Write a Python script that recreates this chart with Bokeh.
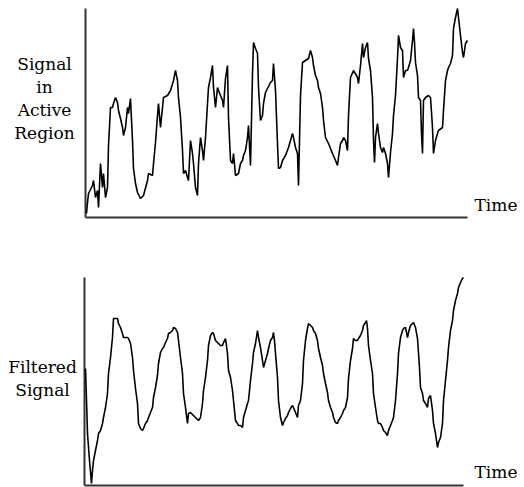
from bokeh.plotting import figure
from bokeh.layouts import column
from bokeh.models import Range1d, Label
from bokeh.embed import file_html
from bokeh.resources import INLINE

# Raw signal in the active region (time index, signal level)
raw_time = [1, 2, 3, 7, 8, 10, 12, 13, 15, 17, 18, 20, 22, 23, 25, 27, 28, 30, 32, 33,
            35, 37, 38, 40, 42, 43, 45, 47, 48, 50, 52, 55, 58, 62, 63, 67, 68, 70, 72, 73,
            75, 77, 78, 82, 85, 88, 90, 92, 93, 95, 97, 98, 100, 102, 103, 105, 107, 108, 110, 112,
            113, 115, 117, 118, 120, 122, 123, 125, 127, 128, 130, 132, 133, 135, 137, 138, 140, 142, 143, 145,
            147, 148, 150, 153, 155, 157, 158, 160, 162, 163, 165, 167, 168, 170, 172, 173, 175, 177, 178, 180,
            182, 185, 187, 188, 190, 192, 193, 195, 197, 200, 203, 207, 208, 210, 212, 213, 215, 217, 220, 223,
            225, 227, 228, 230, 232, 233, 235, 237, 238, 240, 243, 247, 250, 252, 253, 255, 257, 258, 260, 262,
            263, 265, 268, 272, 273, 275, 277, 278, 280, 282, 283, 285, 287, 288, 289, 290, 292, 293, 295, 297,
            298, 300, 302, 303, 305, 307, 308, 310, 312, 313, 315, 317, 318, 320, 322, 323, 325, 327, 328, 329,
            330, 332, 333, 335, 336, 337, 338, 340, 343, 345, 347, 348, 350, 352, 353, 357, 358, 360, 362, 363,
            365, 367, 368, 370, 372, 373, 375, 377, 378, 380, 382]
raw_signal = [4, 15, 24, 32, 37, 20, 27, 10, 54, 30, 44, 20, 30, 72, 110, 110, 114, 120, 115, 107,
              99, 90, 82, 90, 110, 104, 119, 77, 49, 34, 25, 19, 22, 37, 44, 42, 54, 75, 102, 114,
              90, 110, 120, 122, 127, 137, 147, 137, 120, 100, 67, 44, 47, 40, 37, 77, 64, 54, 30, 22,
              54, 80, 67, 57, 80, 114, 130, 140, 152, 130, 110, 130, 127, 122, 117, 110, 139, 152, 100, 57,
              54, 64, 42, 44, 54, 57, 62, 67, 80, 92, 52, 144, 175, 169, 164, 130, 97, 102, 114, 125,
              129, 135, 137, 154, 127, 74, 49, 50, 57, 62, 70, 84, 80, 70, 64, 32, 122, 155, 157, 159,
              167, 160, 152, 142, 137, 130, 124, 110, 97, 80, 74, 64, 57, 52, 60, 74, 77, 80, 77, 67,
              102, 140, 147, 140, 134, 152, 174, 160, 170, 175, 159, 147, 120, 77, 55, 80, 94, 84, 70, 65,
              70, 64, 54, 40, 65, 84, 102, 122, 159, 182, 170, 167, 140, 147, 147, 150, 157, 177, 189, 175,
              155, 142, 120, 117, 84, 64, 117, 120, 122, 120, 90, 64, 77, 84, 87, 90, 107, 137, 147, 150,
              154, 162, 189, 200, 209, 200, 182, 165, 160, 174, 177]

# Filtered signal (time index, signal level)
filt_time = [1, 2, 3, 5, 7, 8, 9, 11, 13, 14, 16, 18, 19, 21, 23, 24, 26, 28, 29, 33,
             34, 36, 38, 39, 43, 44, 46, 48, 49, 51, 53, 54, 56, 58, 59, 61, 63, 64, 66, 68,
             69, 71, 73, 74, 76, 78, 79, 81, 83, 84, 86, 88, 89, 91, 93, 94, 96, 98, 99, 101,
             103, 104, 106, 109, 111, 114, 116, 118, 119, 121, 123, 124, 126, 128, 129, 131, 133, 134, 136, 138,
             139, 141, 143, 144, 146, 148, 149, 151, 153, 154, 156, 158, 159, 161, 163, 164, 166, 168, 169, 171,
             173, 174, 176, 178, 179, 181, 183, 184, 186, 188, 189, 190, 191, 193, 194, 196, 198, 199, 201, 203,
             204, 206, 208, 209, 211, 213, 214, 216, 218, 219, 221, 223, 224, 226, 228, 229, 231, 233, 234, 236,
             238, 239, 241, 243, 244, 246, 248, 249, 251, 253, 254, 256, 258, 259, 261, 263, 264, 266, 268, 269,
             271, 273, 274, 276, 278, 279, 281, 282, 283, 284, 286, 288, 289, 291, 293, 294, 296, 298, 299, 301,
             303, 304, 306, 308, 309, 311, 313, 314, 316, 318, 319, 321, 323, 324, 326, 328, 329, 331, 333, 335,
             336, 338, 339, 341, 343, 344, 346, 348, 349, 351, 353, 354, 356, 358, 359, 361, 363, 364, 366, 368,
             369, 371, 373, 374, 376, 378, 379]
filt_signal = [117, 85, 52, 25, 2, 15, 25, 35, 45, 52, 55, 62, 68, 78, 92, 112, 128, 148, 167, 167,
               162, 158, 152, 148, 148, 147, 142, 128, 115, 97, 82, 62, 57, 55, 57, 62, 65, 68, 73, 78,
               88, 98, 110, 122, 133, 137, 138, 143, 147, 152, 153, 155, 158, 157, 153, 145, 128, 112, 92, 78,
               62, 72, 73, 70, 68, 65, 68, 82, 95, 108, 125, 140, 150, 153, 152, 145, 143, 142, 140, 140,
               143, 147, 132, 115, 108, 95, 85, 65, 62, 60, 60, 58, 68, 75, 82, 85, 105, 122, 133, 142,
               155, 148, 138, 125, 118, 125, 132, 137, 145, 148, 153, 145, 132, 108, 85, 68, 60, 63, 67, 70,
               73, 77, 80, 78, 73, 68, 80, 85, 102, 125, 145, 157, 162, 160, 158, 155, 152, 145, 137, 128,
               120, 112, 102, 93, 85, 78, 73, 68, 63, 62, 65, 68, 72, 75, 78, 88, 107, 125, 137, 147,
               145, 145, 147, 150, 155, 160, 163, 165, 157, 140, 125, 112, 92, 78, 65, 62, 62, 58, 55, 53,
               50, 55, 60, 65, 68, 85, 112, 132, 148, 155, 157, 158, 148, 153, 160, 162, 163, 158, 147, 118,
               98, 92, 85, 82, 78, 87, 90, 75, 62, 52, 38, 43, 48, 62, 85, 105, 125, 138, 155, 165,
               175, 185, 192, 198, 203, 207, 208]

label_top = "Signal\nin\nActive\nRegion"
label_bottom = "Filtered\nSignal"
x_label = "Time"

FONT = "DejaVu Serif"
FSIZE = "17px"
LINE_H = 1.15
AXIS_COLOR = "#333333"


def panel(width, height, xr, yr):
    p = figure(width=width, height=height, output_backend="svg", toolbar_location=None,
               x_range=Range1d(*xr), y_range=Range1d(*yr),
               min_border=0, min_border_left=0, min_border_right=0,
               min_border_top=0, min_border_bottom=0)
    p.xaxis.visible = False
    p.yaxis.visible = False
    p.xgrid.visible = False
    p.ygrid.visible = False
    p.outline_line_color = None
    p.background_fill_color = "white"
    p.border_fill_color = "white"
    return p


def axes(p, t_end, s_top):
    # L-shaped axes: vertical at time 0, horizontal at signal 0
    p.line([0, 0], [0, s_top], line_color=AXIS_COLOR, line_width=2)
    p.line([0, t_end], [0, 0], line_color=AXIS_COLOR, line_width=2)


def text(p, x, y, s, align, baseline):
    p.add_layout(Label(x=x, y=y, text=s, text_align=align, text_baseline=baseline,
                       text_font=FONT, text_font_size=FSIZE, text_color="black",
                       text_line_height=LINE_H))


# ---- top panel: raw signal ----
p1 = panel(524, 243, (-85, 439), (-26, 217))
axes(p1, max(raw_time), max(raw_signal))
p1.line(raw_time, raw_signal, line_color="black", line_width=1.6)
text(p1, -41, 164, label_top, "center", "top")
text(p1, 389, 13, x_label, "left", "alphabetic")

# ---- bottom panel: filtered signal ----
p2 = panel(524, 244, (-84, 440), (-2, 242))
axes(p2, max(filt_time), max(filt_signal))
p2.line(filt_time, filt_signal, line_color="black", line_width=1.6)
text(p2, -42, 129, label_bottom, "center", "top")
text(p2, 390, 14, x_label, "left", "alphabetic")

layout = column(p1, p2)
open("out.html", "w").write(file_html(layout, INLINE))
